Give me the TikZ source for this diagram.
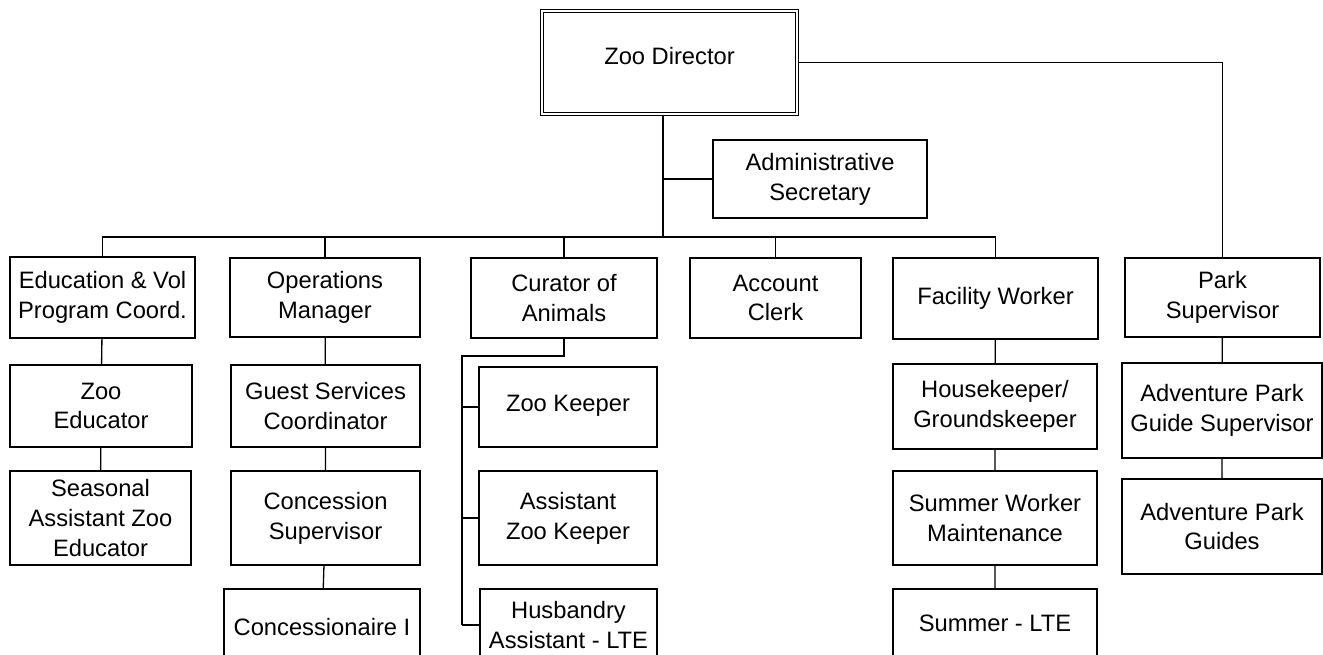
\documentclass[tikz,border=0pt]{standalone}
\usepackage{fontspec}
\setmainfont{Liberation Sans}

\begin{document}
\begin{tikzpicture}[x=0.02cm, y=-0.02cm,
  post/.style={draw, line width=1pt, inner sep=0pt, align=center, font=\fontsize{13.5}{17}\selectfont},
  wh/.style 2 args={minimum width=#1*0.02cm, minimum height=#2*0.02cm},
  link/.style={line width=0.75pt},
  trunk/.style={line width=1.5pt}]
 \clip (0,0) rectangle (1323,654);
 \begin{scope}
   \node (dir) [post, wh={255}{103}, double, line width=0.8pt, double distance=1pt, text depth=8pt] at (669.5,62.5) {Zoo Director};
   \node (admin) [post, wh={214}{78}] at (820,179) {Administrative\\Secretary};
   \coordinate (bus) at (663,237);
   \node (ed) [post, wh={185}{81}] at (102.5,297.5) {Education \& Vol\\Program Coord.};
   \node (zooed) [post, wh={182}{82}] at (101,406) {Zoo\\Educator};
   \node (seas) [post, wh={181}{94}] at (100.5,518) {Seasonal\\Assistant Zoo\\Educator};
   \node (ops) [post, wh={190}{79}] at (325,297.5) {Operations\\Manager};
   \node (guest) [post, wh={189}{82}] at (325.5,406) {Guest Services\\Coordinator};
   \node (conc) [post, wh={189}{94}] at (325.5,518) {Concession\\Supervisor};
   \node (concr) [post, wh={196}{76}] at (322,627) {Concessionaire I};
   \node (cur) [post, wh={186}{80}] at (564,298) {Curator of\\Animals};
   \node (keeper) [post, wh={178}{80}, text depth=4pt] at (568,407) {Zoo Keeper};
   \node (asst) [post, wh={178}{94}] at (568,518) {Assistant\\Zoo Keeper};
   \node (husb) [post, wh={177}{72}] at (568.5,625) {Husbandry\\Assistant - LTE};
   \coordinate (spine) at (462,356);
   \node (clerk) [post, wh={171}{80}] at (775.5,298) {Account\\Clerk};
   \node (fac) [post, wh={205}{81}] at (995.5,298.5) {Facility Worker};
   \node (house) [post, wh={204}{85}] at (995,406.5) {Housekeeper/\\Groundskeeper};
   \node (summ) [post, wh={204}{94}] at (995,518) {Summer Worker\\Maintenance};
   \node (lte) [post, wh={204}{68}] at (995,623) {Summer - LTE};
   \node (park) [post, wh={195}{79}] at (1222.5,297.5) {Park\\Supervisor};
   \node (apgs) [post, wh={200}{95}] at (1222,410.5) {Adventure Park\\Guide Supervisor};
   \node (apg) [post, wh={200}{95}] at (1222,526.5) {Adventure Park\\Guides};
 \end{scope}
 \draw [trunk] (dir.south -| bus) -- (bus);
 \draw [link] (admin.west) -- (admin.west -| bus);
 \draw [link] (dir.east) -| (park.north);
 \draw [link] (ed.north) -- (ed.north |- bus) -- (fac.north |- bus) -- (fac.north);
 \foreach \n in {ops,cur,clerk}
   \draw [link] (\n.north) -- (\n.north |- bus);
 \draw [link] (ed) -- (zooed) -- (seas);
 \draw [link] (ops) -- (guest) -- (conc) -- (concr);
 \draw [link] (fac) -- (house) -- (summ) -- (lte);
 \draw [link] (park) -- (apgs) -- (apg);
 \draw [line width=1.2pt] (cur.south) |- (spine) -- (spine |- husb.west);
 \foreach \n in {keeper,asst,husb}
   \draw [link] (spine |- \n.west) -- (\n.west);
\end{tikzpicture}
\end{document}
